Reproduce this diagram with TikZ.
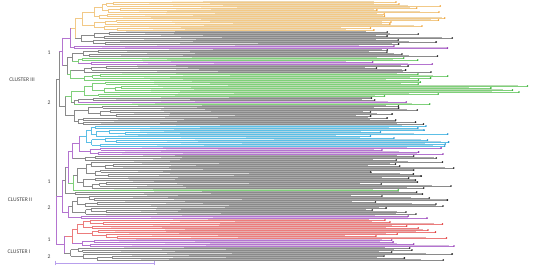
\documentclass[tikz,border=0pt]{standalone}
\usepackage{fontspec}
\newfontfamily\lblfont{Carlito}

% branch colours: L = line, B = band, D = end dot
\definecolor{gryL}{HTML}{8A8A8A}\definecolor{gryB}{HTML}{A9A9A9}\definecolor{gryD}{HTML}{1E1E1E}
\definecolor{yelL}{HTML}{F2C987}\definecolor{yelB}{HTML}{F9E0B5}\definecolor{yelD}{HTML}{F0A030}
\definecolor{grnL}{HTML}{7FD07A}\definecolor{grnB}{HTML}{BDE5B5}\definecolor{grnD}{HTML}{30B030}
\definecolor{bluL}{HTML}{5CBFE6}\definecolor{bluB}{HTML}{B0DDF0}\definecolor{bluD}{HTML}{2090D0}
\definecolor{redL}{HTML}{EC7C7C}\definecolor{redB}{HTML}{F2B0B0}\definecolor{redD}{HTML}{E03030}
\definecolor{purL}{HTML}{B474D0}\definecolor{purB}{HTML}{DDBDE8}\definecolor{purD}{HTML}{9030B0}

\def\xlo{370}\def\xspan{85}

% one leaf: parent x, leaf index, colour
\newcommand\leaf[3]{%
  \pgfmathsetmacro\ly{2+2*#2}%
  \pgfmathsetmacro\le{\xlo+\xspan*rnd}%
  \pgfmathsetmacro\lb{\le-35*rnd}%
  \pgfmathsetmacro\ls{#1+15+70*rnd}%
  \pgfmathsetmacro\lm{min(\ls+20+60*rnd,\lb)}%
  \fill[#3B!45!white] (\ls,\ly-0.7) rectangle (\lm,\ly+0.7);
  \fill[#3B!85!gryB] (\lm,\ly-0.7) rectangle (\lb,\ly+0.7);
  \draw[br=#3] (#1,\ly) -- (\ls,\ly);
  \draw[br=#3,line width=0.3pt] (\ls,\ly) -- (\lb,\ly);
  \draw[br=#3] (\lb,\ly) -- (\le,\ly);
  \fill[#3D] (\le,\ly) circle (0.9);
}

% join two children: parent x, node x, y1, y2, colour
\newcommand\jn[5]{%
  \pgfmathsetmacro\jm{(#3+#4)/2}%
  \draw[br=#5] (#2,#3) -- (#2,#4);
  \draw[br=#5] (#1,\jm) -- (#2,\jm);
  \xdef\rety{\jm}}

% random clade: parent x, first leaf, number of leaves, colour
\newcommand\subtree[4]{%
  \begingroup
  \pgfmathsetmacro\xp{#1}%
  \pgfmathtruncatemacro\ifirst{#2}%
  \pgfmathtruncatemacro\ncount{#3}%
  \ifnum\ncount=1\relax
    \leaf{\xp}{\ifirst}{#4}%
    \pgfmathsetmacro\ly{2+2*\ifirst}\xdef\rety{\ly}%
  \else
    \pgfmathsetmacro\xn{\xp+4+12*rnd}%
    \pgfmathtruncatemacro\na{max(1,min(\ncount-1,round(\ncount*(0.3+0.4*rnd))))}%
    \pgfmathtruncatemacro\nb{\ncount-\na}%
    \pgfmathtruncatemacro\ib{\ifirst+\na}%
    \subtree{\xn}{\ifirst}{\na}{#4}\let\ya\rety
    \subtree{\xn}{\ib}{\nb}{#4}\let\yb\rety
    \jn{\xp}{\xn}{\ya}{\yb}{#4}%
  \fi
  \endgroup}

\begin{document}
\begin{tikzpicture}[x=0.5mm,y=-0.5mm,
    br/.style={draw=#1L,line width=0.5pt},
    lbl/.style={font=\lblfont\fontsize{8}{9}\selectfont,text=black!75},
    scl/.style={draw=purL!70!blue!55!white,line width=0.6pt}]
\useasboundingbox (0,0) rectangle (550,268);
\pgfmathsetseed{11}

% CLUSTER III, 1
\subtree{82}{0}{9}{yel}\let\ya\rety
\subtree{82}{9}{6}{yel}\let\yb\rety
\jn{75}{82}{\ya}{\yb}{yel}\let\yc\rety
\subtree{75}{15}{7}{gry}\let\yd\rety
\jn{70}{75}{\yc}{\yd}{yel}\let\ye\rety
\subtree{70}{22}{2}{pur}\let\yf\rety
\jn{62}{70}{\ye}{\yf}{pur}\let\yg\rety
\subtree{72}{24}{4}{gry}\let\ya\rety
\subtree{78}{28}{2}{grn}\let\yb\rety
\subtree{78}{30}{2}{pur}\let\yc\rety
\jn{72}{78}{\yb}{\yc}{grn}\let\yd\rety
\jn{67}{72}{\ya}{\yd}{gry}\let\ye\rety
\subtree{70}{32}{4}{gry}\let\yb\rety
\subtree{70}{36}{4}{grn}\let\yc\rety
\jn{67}{70}{\yb}{\yc}{grn}\let\yf\rety
\jn{62}{67}{\ye}{\yf}{gry}\let\yh\rety
\jn{59}{62}{\yg}{\yh}{pur}\let\yIIIa\rety
% CLUSTER III, 2
\subtree{92}{40}{2}{grn}\let\ya\rety
\def\xlo{490}\def\xspan{55}%
\subtree{92}{42}{4}{grn}\let\yb\rety
\def\xlo{370}\def\xspan{85}%
\jn{84}{92}{\ya}{\yb}{grn}\let\yc\rety
\subtree{84}{46}{2}{grn}\let\yd\rety
\jn{71}{84}{\yc}{\yd}{grn}\let\ye\rety
\subtree{78}{48}{2}{gry}\let\ya\rety
\subtree{78}{50}{1}{pur}\let\yb\rety
\jn{74}{78}{\ya}{\yb}{gry}\let\yc\rety
\subtree{74}{51}{1}{grn}\let\yd\rety
\jn{71}{74}{\yc}{\yd}{gry}\let\yf\rety
\jn{65}{71}{\ye}{\yf}{grn}\let\yg\rety
\subtree{65}{52}{10}{gry}\let\yh\rety
\jn{59}{65}{\yg}{\yh}{gry}\let\yIIIb\rety
\jn{56}{59}{\yIIIa}{\yIIIb}{gry}\let\yIII\rety

% CLUSTER II, 1
\subtree{86}{62}{6}{blu}\let\ya\rety
\subtree{86}{68}{5}{blu}\let\yb\rety
\jn{79}{86}{\ya}{\yb}{blu}\let\yc\rety
\subtree{79}{73}{4}{pur}\let\yd\rety
\jn{72}{79}{\yc}{\yd}{pur}\let\ye\rety
\subtree{72}{77}{3}{gry}\let\yf\rety
\jn{68}{72}{\ye}{\yf}{pur}\let\yg\rety
\subtree{77}{80}{8}{gry}\let\ya\rety
\subtree{77}{88}{6}{gry}\let\yb\rety
\jn{73}{77}{\ya}{\yb}{gry}\let\yc\rety
\subtree{73}{94}{1}{grn}\let\yd\rety
\jn{68}{73}{\yc}{\yd}{grn}\let\yh\rety
\jn{65}{68}{\yg}{\yh}{pur}\let\yk\rety
\subtree{65}{95}{2}{gry}\let\ym\rety
\jn{62}{65}{\yk}{\ym}{gry}\let\yIIa\rety
% CLUSTER II, 2
\subtree{68}{97}{10}{gry}\let\ya\rety
\subtree{68}{107}{2}{pur}\let\yb\rety
\jn{62}{68}{\ya}{\yb}{pur}\let\yIIb\rety
\jn{56}{62}{\yIIa}{\yIIb}{pur}\let\yII\rety

% CLUSTER I
\subtree{77}{109}{5}{red}\let\ya\rety
\subtree{77}{114}{5}{red}\let\yb\rety
\jn{72}{77}{\ya}{\yb}{red}\let\yc\rety
\subtree{72}{119}{4}{pur}\let\yd\rety
\jn{64}{72}{\yc}{\yd}{red}\let\yIa\rety
\subtree{64}{123}{7}{gry}\let\yIb\rety
\jn{56}{64}{\yIa}{\yIb}{pur}\let\yI\rety

% root
\draw[br=gry] (56,\yIII) -- (56,\yII);
\draw[br=pur] (56,\yII) -- (56,\yI);

\node[lbl] (c3) at (22,80) {CLUSTER III};
\node[lbl] (c2) at (20,200) {CLUSTER II};
\node[lbl] (c1) at (19,252) {CLUSTER I};
\node[lbl] (s31) at (49,53) {1};
\node[lbl] (s32) at (49,103) {2};
\node[lbl] (s21) at (49,182) {1};
\node[lbl] (s22) at (49,208) {2};
\node[lbl] (s11) at (49,240) {1};
\node[lbl] (s12) at (49,257) {2};

% scale bar
\coordinate (sbl) at (55,263);
\coordinate (sbr) at (154,263);
\draw[scl,|-|] (sbl) -- (sbr);
\end{tikzpicture}
\end{document}
